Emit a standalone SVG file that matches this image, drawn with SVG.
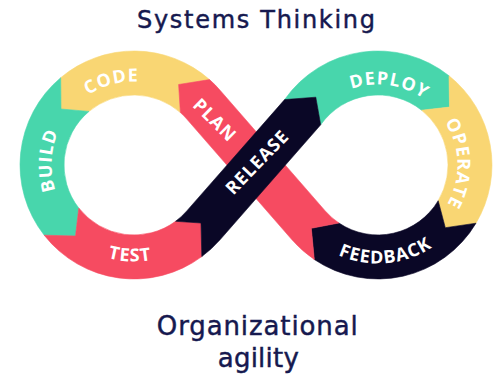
<svg xmlns="http://www.w3.org/2000/svg" width="504" height="376" viewBox="0 0 504 376">
<style>
.green{fill:#48D6AC;stroke:#48D6AC}
.yellow{fill:#F9D673;stroke:#F9D673}
.red{fill:#F64B61;stroke:#F64B61}
.dark{fill:#0A0726;stroke:#0A0726}
.seg{stroke-width:0.6;stroke-linejoin:round}
.lbl{font-family:"Open Sans","Liberation Sans",sans-serif;font-weight:700;font-size:18px;fill:#ffffff;letter-spacing:1px}
.ttl{font-family:"DejaVu Sans","Liberation Sans",sans-serif;fill:#16194F;stroke:#16194F;stroke-width:0.45;text-anchor:middle}
</style>
<defs>
<path id="pCODE" d="M 53.3,143.4 A 83.5 83.5 0 0 1 193,106"/>
<path id="pBUILD" d="M 89.1,234.2 A 82.5 82.5 0 0 1 96.5,91.5"/>
<path id="pTEST" d="M 48.4,209.6 A 96.5 96.5 0 0 0 215.4,216.8"/>
<path id="pDEPLOY" d="M 314.6,115.4 A 80.5 80.5 0 0 1 452.6,134.8"/>
<path id="pOPERATE" d="M 416.2,95.3 A 79.5 79.5 0 0 1 419.3,232.9"/>
<path id="pFEEDBACK" d="M 297.3,221.5 A 98.5 98.5 0 0 0 467.3,206.6"/>
<path id="pPLAN" d="M 168,82.2 L 252.8,167"/>
<path id="pRELEASE" d="M 213,216.8 L 310.4,116.2"/>
</defs>
<rect width="504" height="376" fill="#ffffff"/>
<text class="ttl" x="256" y="28.3" font-size="24" textLength="238" lengthAdjust="spacing">Systems Thinking</text>

<g id="code">
<path class="seg yellow" d="M 209.5,79.6 A 114 114 0 0 0 60.7,77.7 L 61,109 L 89,111.4 A 70 70 0 0 1 180.4,112.6 L 178.6,84.5 Z"/>
<text class="lbl"><textPath href="#pCODE" startOffset="50%" text-anchor="middle">CODE</textPath></text>
</g>
<g id="build">
<path class="seg green" d="M 60.7,77.7 A 114 114 0 0 0 44.2,235.2 L 75.5,236 L 78.8,208.1 A 70 70 0 0 1 89,111.4 L 61,109 Z"/>
<text class="lbl"><textPath href="#pBUILD" startOffset="50%" text-anchor="middle">BUILD</textPath></text>
</g>
<g id="test">
<path class="seg red" d="M 44.2,235.2 A 114 114 0 0 0 201.8,256.6 L 201,223 L 175.6,221.3 A 70 70 0 0 1 78.8,208.1 L 75.5,236 Z"/>
<text class="lbl"><textPath href="#pTEST" startOffset="50%" text-anchor="middle">TEST</textPath></text>
</g>
<g id="deploy">
<path class="seg green" d="M 284.6,99.6 A 114 114 0 0 1 449,75.8 L 449.5,107.1 L 421.6,110.2 A 70 70 0 0 0 320.7,124.8 L 315.8,97.2 Z"/>
<text class="lbl"><textPath href="#pDEPLOY" startOffset="50%" text-anchor="middle">DEPLOY</textPath></text>
</g>
<g id="operate">
<path class="seg yellow" d="M 449,75.8 A 114 114 0 0 1 476,223.2 L 445.3,227.7 L 438.2,200.7 A 70 70 0 0 0 421.6,110.2 L 449.5,107.1 Z"/>
<text class="lbl"><textPath href="#pOPERATE" startOffset="50%" text-anchor="middle">OPERATE</textPath></text>
</g>
<g id="feedback">
<path class="seg dark" d="M 476,223.2 A 114 114 0 0 1 314.3,259.5 L 311.3,228.3 L 338.9,223 A 70 70 0 0 0 438.2,200.7 L 445.3,227.7 Z"/>
<text class="lbl"><textPath href="#pFEEDBACK" startOffset="50%" text-anchor="middle">FEEDBACK</textPath></text>
</g>
<g id="plan">
<path class="seg red" d="M 314.3,259.5 A 114 114 0 0 1 292,239.8 L 186.8,119.1 A 70 70 0 0 0 180.4,112.6 L 178.6,84.5 L 209.5,79.6 A 114 114 0 0 1 220,90.2 L 325.2,210.9 A 70 70 0 0 0 338.9,223 L 311.3,228.3 Z"/>
<text class="lbl"><textPath href="#pPLAN" startOffset="50%" text-anchor="middle">PLAN</textPath></text>
</g>
<g id="release">
<path class="seg dark" d="M 201.8,256.6 A 114 114 0 0 0 220,239.8 L 320.7,124.8 L 315.8,97.2 L 284.6,99.6 L 186.8,210.9 A 70 70 0 0 1 175.6,221.3 L 201,223 Z"/>
<text class="lbl"><textPath href="#pRELEASE" startOffset="50%" text-anchor="middle">RELEASE</textPath></text>
</g>

<text class="ttl" x="257.3" y="335" font-size="26" textLength="201" lengthAdjust="spacing">Organizational</text>
<text class="ttl" x="258.3" y="366.5" font-size="26" textLength="81" lengthAdjust="spacing">agility</text>
</svg>
